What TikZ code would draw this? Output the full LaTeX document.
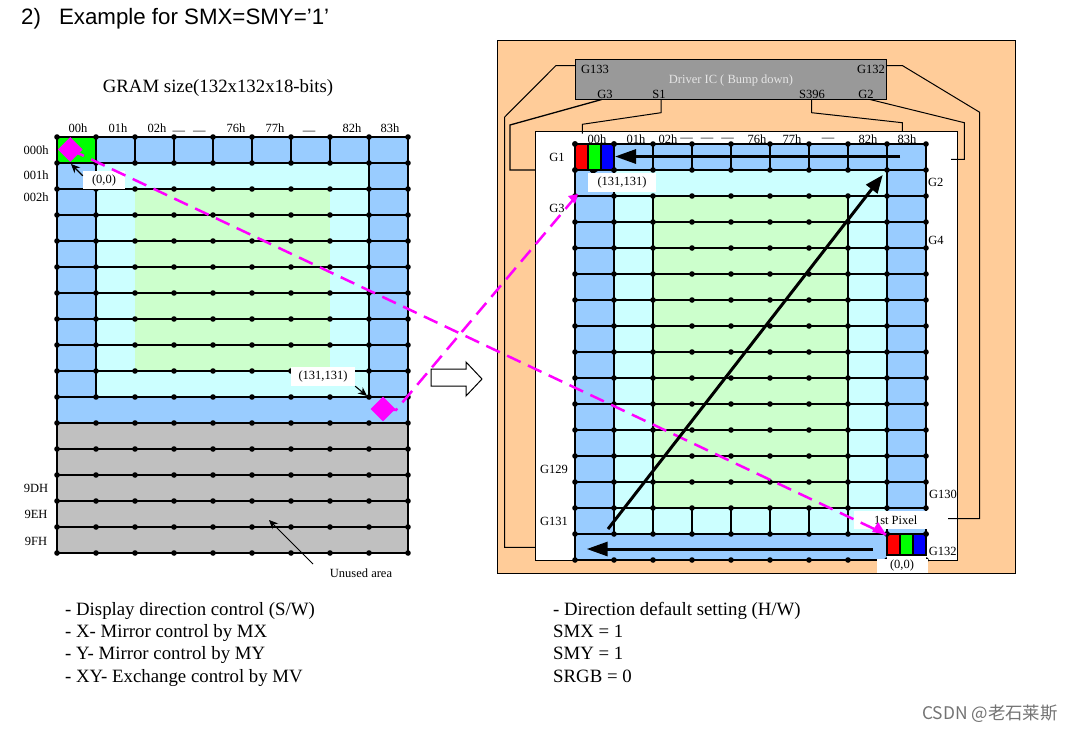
\documentclass[tikz,border=0pt]{standalone}
\usepackage{fontspec}
\setmainfont{Liberation Serif}
\newfontfamily\headfont{Liberation Sans}
\newfontfamily\markfont{Noto Sans CJK SC}
\usetikzlibrary{arrows.meta,shapes.geometric}
\definecolor{panelorange}{HTML}{FFCC99}
\definecolor{cellblue}{HTML}{99CCFF}
\definecolor{cellcyan}{HTML}{CCFFFF}
\definecolor{cellgreen}{HTML}{CCFFCC}
\definecolor{cellgray}{HTML}{C0C0C0}
\definecolor{icgray}{HTML}{999999}
\definecolor{magpink}{HTML}{FF00FF}

\begin{document}
\begin{tikzpicture}[
        x=1pt,
        y=-1pt,
        every node/.style={font=\fontsize{12.5}{14}\selectfont, inner sep=0pt},
        griddot/.style={
            circle,
            fill=black,
            minimum size=5.6pt
        },
        gridline/.style={draw, line width=1.1pt},
        boldline/.style={draw, line width=1.8pt},
        wire/.style={draw, line width=1pt},
        whitebox/.style={fill=white},
        listtext/.style={
            anchor=west,
            text height=13pt,
            text depth=4pt,
            font=\fontsize{18.8}{20}\selectfont
        },
        magline/.style={
            draw=magpink,
            line width=2.5pt,
            dash pattern=on 15pt off 8pt
        },
        magmark/.style={
            diamond,
            fill=magpink,
            minimum size=25pt
        },
        scanarrow/.style={
            draw,
            line width=3pt,
            -{Triangle[length=21pt,width=14pt]}
        },
        noteline/.style={draw, line width=1.1pt, -{Stealth[length=9pt,width=8pt]}}
    ]
    \useasboundingbox (0,0) rectangle (1074,732);

    % Heading
    \node[anchor=west, font=\headfont\fontsize{22.3}{24}\selectfont] (heading) at (21,18.5) {2)\hspace{18pt}Example for SMX=SMY=’1’};
    \node[font=\fontsize{18.8}{20}\selectfont] (gramtitle) at (218,88) {GRAM size(132x132x18-bits)};

    % GRAM cells
    \fill[cellblue] (57,137) rectangle (408,423);
    \fill[cellcyan] (96,163) rectangle (369,397);
    \fill[cellgreen] (135,189) rectangle (330,371);
    \fill[cellgray] (57,423) rectangle (408,553);
    \fill[green] (57,137) rectangle (96,163);

    % GRAM grid
    \foreach \col in {0,...,9}
        \foreach \row in {0,...,16}
            \node[griddot] (g-\col-\row) at ({57+39*\col},{137+26*\row}) {};
    \foreach \row in {1,...,10,12,13,14,15,16}
        \draw[gridline] (g-0-\row.center) -- (g-9-\row.center);
    \draw[boldline] (g-0-0.center) -- (g-9-0.center);
    \draw[boldline] (g-0-11.center) -- (g-9-11.center);
    \foreach \col in {2,...,7}
        \draw[gridline] (g-\col-0.center) -- (g-\col-1.center);
    \draw[gridline] (g-1-0.center) -- (g-1-10.center);
    \draw[gridline] (g-8-0.center) -- (g-8-10.center);
    \draw[gridline] (g-0-0.center) -- (g-0-16.center);
    \draw[gridline] (g-9-0.center) -- (g-9-16.center);

    % GRAM labels
    \node (gc00) at (78,128.5) {00h};
    \node (gc01) at (118,128.5) {01h};
    \node (gc02) at (157,128.5) {02h};
    \node (gcdash) at (189,132.5) {—\hspace{8pt}—};
    \node (gc76) at (236,128.5) {76h};
    \node (gc77) at (275,128.5) {77h};
    \node (gcdash2) at (309,132.5) {—};
    \node (gc82) at (352,128.5) {82h};
    \node (gc83) at (390,128.5) {83h};
    \node (gr000) at (36,150.5) {000h};
    \node (gr001) at (36,175.5) {001h};
    \node (gr002) at (36,197.5) {002h};
    \node (gr9d) at (36,488.5) {9DH};
    \node (gr9e) at (36,514.5) {9EH};
    \node (gr9f) at (36,541.5) {9FH};

    \node[whitebox, minimum width=42pt, minimum height=18pt] (orig) at (104,180) {(0,0)};
    \node[whitebox, minimum width=64pt, minimum height=19pt] (endl) at (323,376.5) {(131,131)};
    \node (unused) at (361,573.5) {Unused area};
    \coordinate (origtip) at (71,164);
    \coordinate (endtip) at (367,396);
    \coordinate (unusedtip) at (269,520);
    \draw[noteline] (orig.north west) ++(0,5) -- (origtip);
    \draw[noteline] (endl.south east) -- (endtip);
    \draw[noteline, line width=0.8pt] (313,564) -- (unusedtip);

    % Panel
    \draw[fill=panelorange, line width=1pt] (497,40) rectangle (1015.5,573);
    \draw[fill=white, line width=1pt] (535.7,131) rectangle (957.7,560);

    % Panel cells
    \fill[cellblue] (575,144) rectangle (926,560);
    \fill[cellcyan] (614,170) rectangle (887,534);
    \fill[cellgreen] (653,196) rectangle (848,508);

    % Panel grid
    \foreach \col in {0,...,9}
        \foreach \row in {0,...,16}
            \node[griddot] (p-\col-\row) at ({575+39*\col},{144+26*\row}) {};
    \foreach \row in {1,...,16}
        \draw[gridline] (p-0-\row.center) -- (p-9-\row.center);
    \draw[boldline] (p-0-0.center) -- (p-9-0.center);
    \foreach \col in {3,...,6} {
        \draw[gridline] (p-\col-0.center) -- (p-\col-1.center);
        \draw[gridline] (p-\col-14.center) -- (p-\col-15.center);
    }
    \draw[gridline] (p-2-0.center) -- (p-2-1.center);
    \draw[gridline] (p-7-0.center) -- (p-7-1.center);
    \draw[gridline] (p-2-2.center) -- (p-2-15.center);
    \draw[gridline] (p-7-2.center) -- (p-7-15.center);
    \draw[gridline] (p-1-0.center) -- (p-1-15.center);
    \draw[gridline] (p-8-0.center) -- (p-8-15.center);
    \draw[gridline] (p-0-0.center) -- (p-0-16.center);
    \draw[gridline] (p-9-0.center) -- (p-9-15.center);

    % Driver IC
    \node[draw, fill=icgray, line width=1pt, minimum width=311pt, minimum height=39.5pt] (driver) at (730.5,79.7) {};
    \node[text=white!90!black] (drivername) at (731,80.5) {Driver IC ( Bump down)};
    \node (p133) at (595,69.5) {G133};
    \node (p132) at (871,69.5) {G132};
    \node (p3) at (605,94.5) {G3};
    \node (ps1) at (659,94.5) {S1};
    \node (ps396) at (812,94.5) {S396};
    \node (p2) at (866,94.5) {G2};

    % Wires
    \coordinate (w133a) at (575,65.5);
    \coordinate (w133b) at (556,65.5);
    \coordinate (w133c) at (504.7,117);
    \coordinate (w133d) at (504.7,547.3);
    \coordinate (w133e) at (535.7,547.3);
    \draw[wire] (w133a) -- (w133b) -- (w133c) -- (w133d) -- (w133e);
    \coordinate (w3a) at (601.7,99.5);
    \coordinate (w3b) at (510,125);
    \coordinate (w3c) at (510,170);
    \coordinate (w3d) at (535.7,170);
    \draw[wire, line width=1.3pt] (w3a) -- (w3b) -- (w3c) -- (w3d);
    \coordinate (ws1a) at (661,99.5);
    \coordinate (ws1b) at (661,112.7);
    \coordinate (ws1c) at (582.3,124.3);
    \coordinate (ws1d) at (582.3,133.5);
    \draw[wire] (ws1a) -- (ws1b) -- (ws1c) -- (ws1d);
    \coordinate (ws396a) at (811.7,99.5);
    \coordinate (ws396b) at (811.7,112.7);
    \coordinate (ws396c) at (902.3,122.7);
    \coordinate (ws396d) at (902.3,131);
    \draw[wire] (ws396a) -- (ws396b) -- (ws396c) -- (ws396d);
    \coordinate (w2a) at (870,99.5);
    \coordinate (w2b) at (964.3,122.7);
    \coordinate (w2c) at (964.3,159.3);
    \coordinate (w2d) at (951,159.3);
    \draw[wire] (w2a) -- (w2b) -- (w2c) -- (w2d);
    \coordinate (w132a) at (886,65.5);
    \coordinate (w132b) at (902.3,65.5);
    \coordinate (w132c) at (979.7,112.3);
    \coordinate (w132d) at (979.7,518.7);
    \coordinate (w132e) at (947.7,518.7);
    \draw[wire] (w132a) -- (w132b) -- (w132c) -- (w132d) -- (w132e);

    % Panel labels
    \node (pc00) at (597,139.5) {00h};
    \node (pc01) at (636,139.5) {01h};
    \node (pc02) at (668,139.5) {02h};
    \node (pcdash) at (707,140) {—\hspace{8pt}—\hspace{8pt}—};
    \node (pc76) at (757,139.5) {76h};
    \node (pc77) at (792,139.5) {77h};
    \node (pcdash2) at (828,140) {—};
    \node (pc82) at (868,139.5) {82h};
    \node (pc83) at (907,139.5) {83h};
    \node (pg1) at (557,157.5) {G1};
    \node (pg3) at (557,208.5) {G3};
    \node (pg129) at (554,469.5) {G129};
    \node (pg131) at (554,521) {G131};
    \node (pg2) at (935.7,182.5) {G2};
    \node (pg4) at (936,240.5) {G4};
    \node (pg130) at (943,494) {G130};
    \node (pg132) at (942.7,551) {G132};

    % Pixels
    \draw[fill=red, line width=1.2pt] (575,144) rectangle (588,170);
    \draw[fill=green, line width=1.2pt] (588,144) rectangle (601,170);
    \draw[fill=blue, line width=1.2pt] (601,144) rectangle (614,170);
    \fill[white] (887,534) rectangle (926,560);
    \draw[fill=red, line width=1.2pt] (887,534) rectangle (900,555);
    \draw[fill=green, line width=1.2pt] (900,534) rectangle (913,555);
    \draw[fill=blue, line width=1.2pt] (913,534) rectangle (926,555);
    \node[griddot] (pixa) at (887,534) {};
    \node[griddot] (pixb) at (926,534) {};
    \node[griddot] (pixc) at (575,144) {};
    \node[griddot] (pixd) at (614,144) {};
    \node[griddot] (pixe) at (575,170) {};
    \node[griddot] (pixf) at (614,170) {};

    \coordinate (endptip) at (589,170);
    \draw[noteline] (605,178) -- (endptip);
    \node[whitebox, minimum width=68pt, minimum height=18.7pt] (endp) at (622,182.3) {(131,131)};
    \node[whitebox, minimum width=51pt, minimum height=14pt] (origp) at (902.5,566) {};
    \node (origptext) at (902,565) {(0,0)};
    \node[whitebox, anchor=west, minimum width=94pt, minimum height=18pt] (firstbox) at (854,520) {};
    \node (firsttext) at (895.7,520.5) {1st Pixel};

    % Transfer arrow
    \draw[fill=white, line width=1pt] (431,369) -- (466,369) -- (466,362) -- (482,379) -- (466,396) -- (466,386) -- (431,386) -- cycle;

    % Magenta paths
    \node[magmark] (magl) at (70.3,149.5) {};
    \node[magmark] (magr) at (383,409) {};
    \coordinate (magltip) at (886,534.5);
    \coordinate (magbend) at (396,410);
    \coordinate (magrtip) at (578,194);
    \draw[magline] (magl.center) -- (magltip);
    \draw[magline] (magr.center) -- (magbend) -- (magrtip);
    \draw[draw=none, fill=magpink] (886,534.5) -- (872,532) -- (878,522) -- cycle;
    \draw[draw=none, fill=magpink] (578,194) -- (568,196) -- (575,204) -- cycle;

    % Scan arrows
    \coordinate (topa) at (900,156.5);
    \coordinate (topb) at (615,156.5);
    \coordinate (bota) at (873,549);
    \coordinate (botb) at (586.7,549);
    \coordinate (diaga) at (608,529);
    \coordinate (diagb) at (882.7,175);
    \draw[scanarrow] (topa) -- (topb);
    \draw[scanarrow] (bota) -- (botb);
    \draw[scanarrow, -{Triangle[length=18pt,width=14pt]}] (diaga) -- (diagb);

    % Notes under the pictures
    \node[listtext] (swa) at (65,610.5) {- Display direction control (S/W)};
    \node[listtext] (swb) at (65,632.5) {- X- Mirror control by MX};
    \node[listtext] (swc) at (65,655) {- Y- Mirror control by MY};
    \node[listtext] (swd) at (65,677.5) {- XY- Exchange control by MV};
    \node[listtext] (hwa) at (553,610.5) {- Direction default setting (H/W)};
    \node[listtext] (hwb) at (553,632.5) {SMX = 1};
    \node[listtext] (hwc) at (553,655) {SMY = 1};
    \node[listtext] (hwd) at (553,677.5) {SRGB = 0};

    \node[anchor=west, text=black!55, font=\markfont\fontsize{17.4}{19}\selectfont] (mark) at (922,714) {CSDN @老石莱斯};
\end{tikzpicture}
\end{document}
